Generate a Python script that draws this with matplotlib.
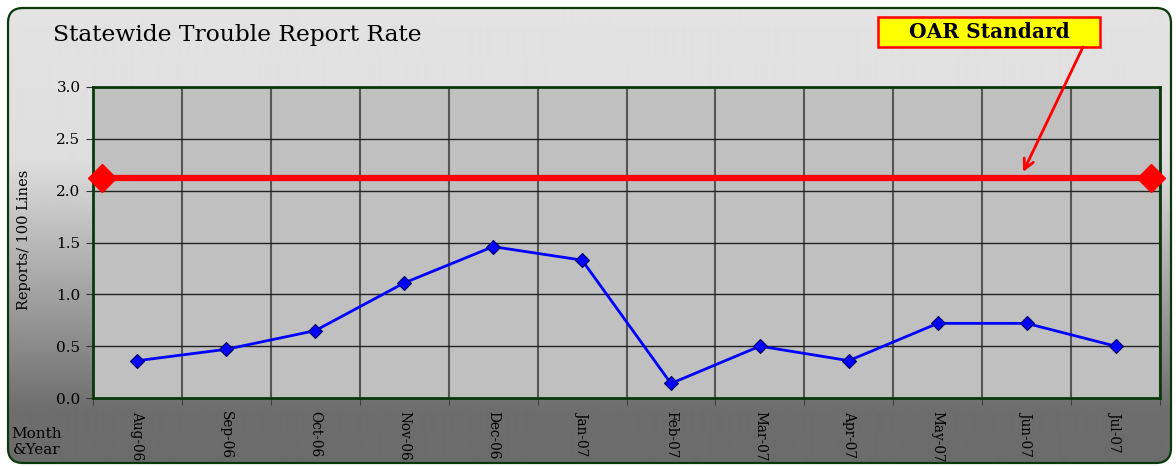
import numpy as np
import matplotlib
matplotlib.use("Agg")
import matplotlib.pyplot as plt
from matplotlib.patches import FancyBboxPatch, Rectangle

plt.rcParams['font.family'] = ['DejaVu Serif']

months = ['Aug-06', 'Sep-06', 'Oct-06', 'Nov-06', 'Dec-06', 'Jan-07',
          'Feb-07', 'Mar-07', 'Apr-07', 'May-07', 'Jun-07', 'Jul-07']
rates = [0.36, 0.47, 0.65, 1.11, 1.46, 1.33, 0.14, 0.50, 0.36, 0.72, 0.72, 0.50]
oar_standard = 2.12
y_ticks = [0.0, 0.5, 1.0, 1.5, 2.0, 2.5, 3.0]

W, H = 1176, 466
fig = plt.figure(figsize=(W / 100, H / 100), dpi=100)

# Background panel with gradient and rounded green border
bg = fig.add_axes([0, 0, 1, 1], zorder=0)
bg.set_xlim(0, W)
bg.set_ylim(0, H)
bg.axis('off')
rows = np.arange(H)  # from top
vals = np.interp(rows, [0, 160, 410, H], [0.89, 0.87, 0.43, 0.42])
grad = np.repeat(vals[:, None], 2, axis=1)
im = bg.imshow(grad, cmap='gray', vmin=0, vmax=1, extent=[0, W, 0, H],
               aspect='auto', origin='upper', interpolation='bilinear')
box = FancyBboxPatch((8, 3), 1163, 455,
                     boxstyle="round,pad=0,rounding_size=15",
                     facecolor='none', edgecolor='#0a3a0a', linewidth=1.6)
bg.add_patch(box)
im.set_clip_path(box)

# OAR Standard label box
bg.add_patch(Rectangle((878, H - 47), 222, 30, facecolor='#ffff00',
                       edgecolor='#ff0000', linewidth=1.8, zorder=3))
bg.text(989, H - 32, 'OAR Standard', fontsize=14.5, fontweight='bold',
        ha='center', va='center', zorder=4)

# Main axes
ax = fig.add_axes([93 / W, 1 - 398 / H, (1160 - 93) / W, (398 - 87) / H], zorder=1)
ax.set_facecolor('#c0c0c0')
x = np.arange(len(months))
ax.set_xlim(-0.5, len(months) - 0.5)
ax.set_ylim(0, 3.0)

ax.plot(x, rates, color='#0000ff', linewidth=2.0, marker='D', markersize=7,
        markerfacecolor='#0000ff', markeredgecolor='#000060', markeredgewidth=0.8,
        zorder=4)
ax.axhline(oar_standard, xmin=0.008, xmax=0.992, color='#ff0000', linewidth=4.5,
           marker='D', markersize=14, markerfacecolor='#ff0000',
           markeredgecolor='#ff0000', zorder=5, clip_on=False)

ax.set_yticks(y_ticks)
ax.set_yticklabels([f"{v:.1f}" for v in y_ticks], fontsize=11)
ax.set_xticks(x)
ax.set_xticklabels(months, rotation=270, fontsize=9.8, va='top', ha='center')
ax.set_xticks(np.arange(-0.5, len(months)), minor=True)
ax.tick_params(axis='x', which='major', length=0, pad=9.5)
ax.tick_params(axis='x', which='minor', length=5, color='#333333')
ax.tick_params(axis='y', length=5, color='#333333', pad=4)

ax.grid(axis='y', which='major', color='#222222', linewidth=1.0, zorder=1)
ax.grid(axis='x', which='minor', color='#555555', linewidth=1.5, zorder=1)
ax.set_axisbelow(True)
for s in ax.spines.values():
    s.set_color('#0a3a0a')
    s.set_linewidth(2.0)

fig.text(53 / W, 1 - 35 / H, 'Statewide Trouble Report Rate', fontsize=16.8,
         ha='left', va='center')
fig.text(24 / W, 1 - 240 / H, 'Reports/ 100 Lines', fontsize=10.5,
         rotation=90, ha='center', va='center')
fig.text(37 / W, 1 - 442 / H, 'Month\n&Year', fontsize=11,
         ha='center', va='center', multialignment='center', linespacing=1.2)

# Arrow from label box to standard line
ax.annotate('', xy=(9.96, 2.18), xycoords='data',
            xytext=(1083, H - 47), textcoords='figure pixels',
            arrowprops=dict(arrowstyle='->', color='#ff0000', linewidth=2.0,
                            mutation_scale=18, shrinkA=0, shrinkB=0),
            zorder=6, annotation_clip=False)

fig.savefig('out.png', dpi=100)
